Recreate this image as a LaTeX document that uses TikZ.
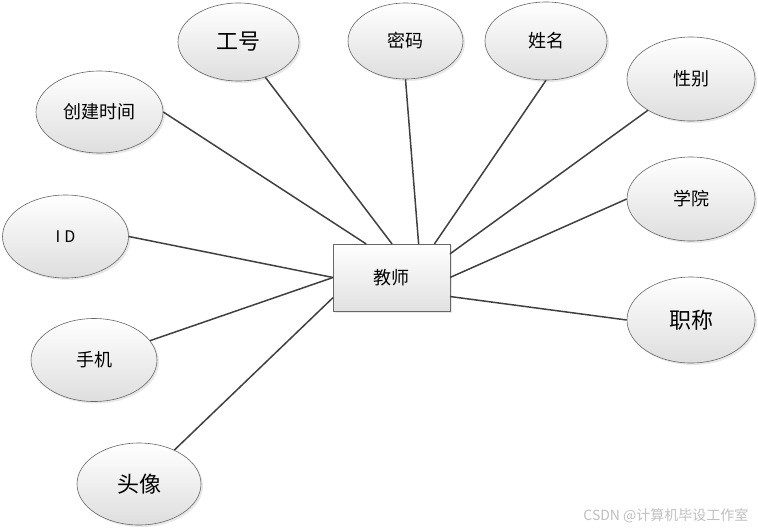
\documentclass[tikz,border=0pt]{standalone}
\usepackage{fontspec}
\setmainfont{Noto Sans CJK SC}
\usetikzlibrary{shapes.geometric,shadows}
\begin{document}
\begin{tikzpicture}[x=1pt,y=-1pt,
  attr/.style={ellipse,draw=black!60,line width=0.6pt,top color=white,bottom color=black!13,
    minimum width=126pt,minimum height=83pt,inner sep=0pt,font=\fontsize{18}{20}\selectfont,
    drop shadow={opacity=0.18,shadow xshift=2pt,shadow yshift=-2pt}},
  big/.style={font=\fontsize{22}{24}\selectfont},
  ent/.style={rectangle,draw=black!60,line width=0.6pt,top color=white,bottom color=black!12,
    minimum width=117pt,minimum height=67pt,inner sep=0pt,outer sep=0pt,font=\fontsize{18}{20}\selectfont,
    drop shadow={opacity=0.18,shadow xshift=2pt,shadow yshift=-2pt}},
  link/.style={draw=black!75,line width=1.5pt}]
\useasboundingbox (0,0) rectangle (758,531);
\node[ent] (js) at (391.5,277.5) {教师};
\node[attr,big,minimum width=121pt,minimum height=78pt] (gh) at (238.5,42) {工号};
\node[attr,minimum width=115pt,minimum height=76pt] (mm) at (405.5,41) {密码};
\node[attr,minimum width=122pt,minimum height=78pt] (xm) at (546,41) {姓名};
\node[attr,minimum width=128pt,minimum height=84pt] (xb) at (691,79) {性别};
\node[attr,minimum width=128pt,minimum height=84pt] (xy) at (691,199) {学院};
\node[attr,big,minimum width=128pt,minimum height=86pt] (zc) at (691,320) {职称};
\node[attr,minimum width=127pt,minimum height=82pt] (cj) at (99.5,112) {创建时间};
\node[attr,font=\fontsize{16}{18}\selectfont\addfontfeature{LetterSpace=25}] (id) at (65.5,236.5) {ID};
\node[attr] (sj) at (94,360) {手机};
\node[attr,big,minimum width=124pt,minimum height=82pt] (tx) at (139,484) {头像};
\draw[link] (cj.east)--(js.127.3); \draw[link] (gh)--(js.89);
\draw[link] (mm.south)--(js.51.6); \draw[link] (xm.south)--(js.38.2);
\draw[link] (xb)--(js.22.7); \draw[link] (xy.west)--(js.0);
\draw[link] (zc.west)--(js.-18.4);
\draw[link] (id.east)--(js.180); \draw[link] (sj)--(js.180);
\draw[link] (tx)--(js.199.3);
\node[anchor=east,text=black!25,font=\fontsize{14}{16}\selectfont] (wm) at (752,516) {CSDN @计算机毕设工作室};
\end{tikzpicture}
\end{document}
